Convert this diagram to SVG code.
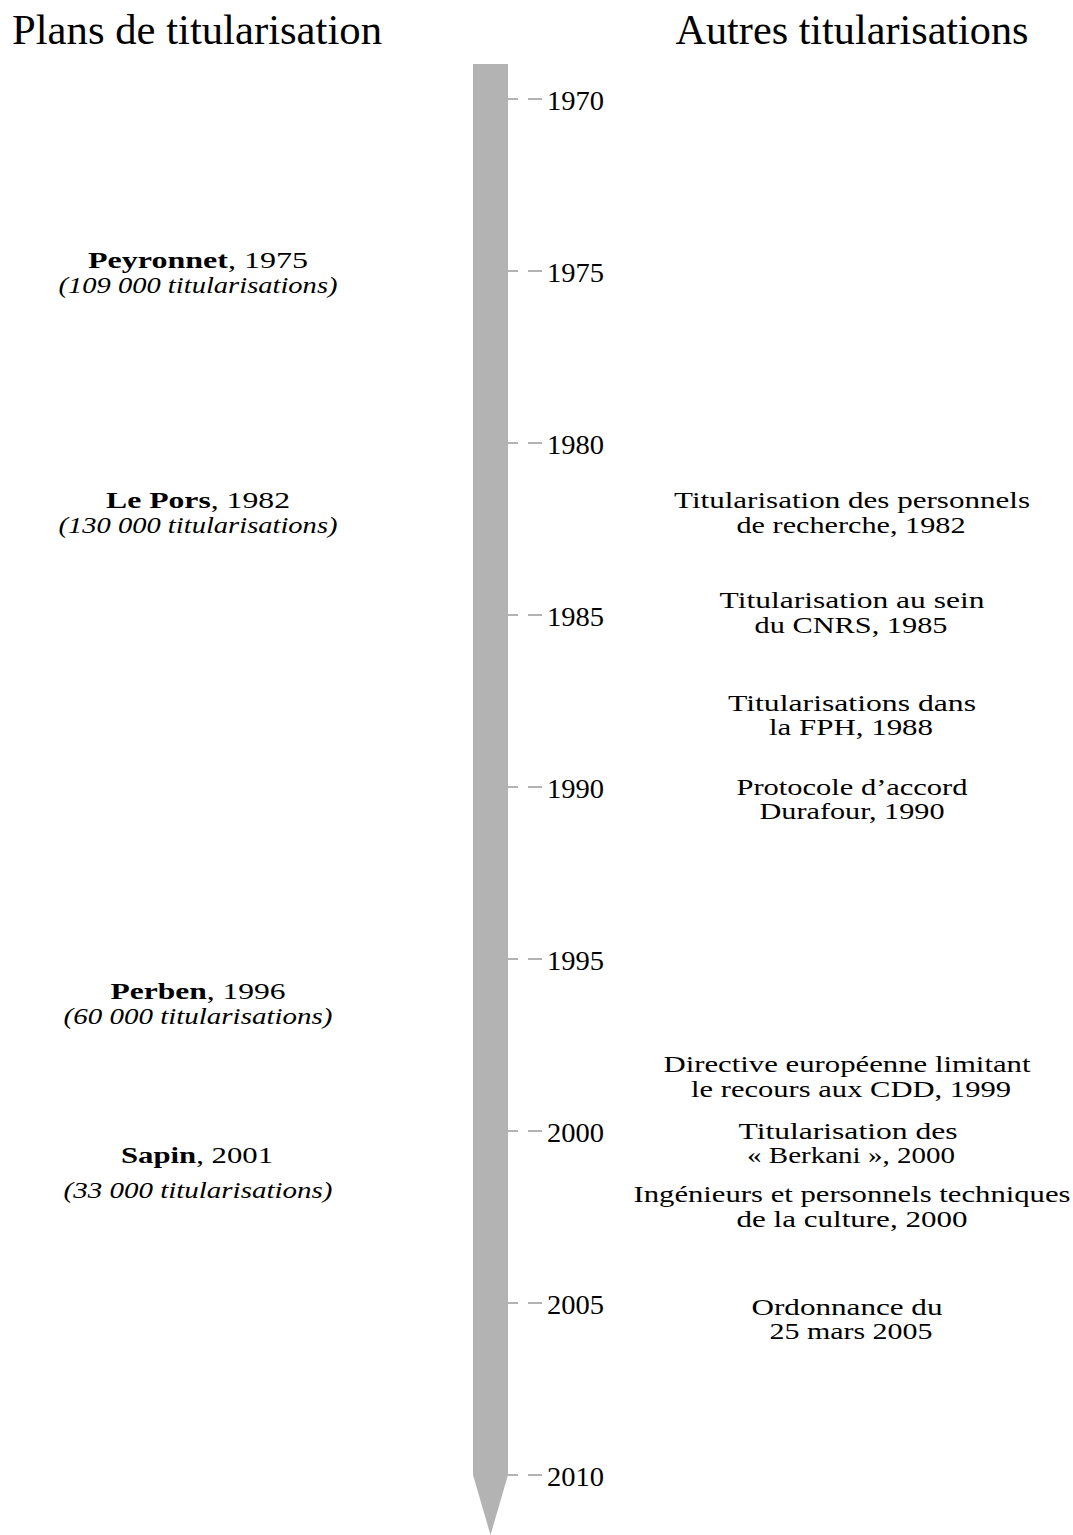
<svg xmlns="http://www.w3.org/2000/svg" width="1073" height="1535" viewBox="0 0 1073 1535">
<style>
text{font-family:"Liberation Serif","Times New Roman",serif;fill:#000;text-anchor:middle}
.hd{font-size:42px}
.yr{font-size:28px;text-anchor:start}
.b{font-size:23px}
.it{font-size:23px;font-style:italic}
.tick{stroke:#b3b3b3;stroke-width:2;stroke-dasharray:10 10 14;fill:none}
</style>
<rect width="1073" height="1535" fill="#fff"/>
<g id="headers">
<text class="hd" x="197" y="44" textLength="370" lengthAdjust="spacingAndGlyphs">Plans de titularisation</text>
<text class="hd" x="852" y="44" textLength="353" lengthAdjust="spacingAndGlyphs">Autres titularisations</text>
</g>
<g id="axis">
<path d="M473,64 H508 V1475 L490.5,1535 L473,1475 Z" fill="#b3b3b3"/>
</g>
<g id="connectors">
<line class="tick" x1="508" y1="99" x2="542" y2="99"/>
<line class="tick" x1="508" y1="271" x2="542" y2="271"/>
<line class="tick" x1="508" y1="443" x2="542" y2="443"/>
<line class="tick" x1="508" y1="615" x2="542" y2="615"/>
<line class="tick" x1="508" y1="787" x2="542" y2="787"/>
<line class="tick" x1="508" y1="959" x2="542" y2="959"/>
<line class="tick" x1="508" y1="1131" x2="542" y2="1131"/>
<line class="tick" x1="508" y1="1303" x2="542" y2="1303"/>
<line class="tick" x1="508" y1="1475" x2="542" y2="1475"/>
</g>
<g id="years">
<text class="yr" x="547" y="110" textLength="57" lengthAdjust="spacingAndGlyphs">1970</text>
<text class="yr" x="547" y="282" textLength="57" lengthAdjust="spacingAndGlyphs">1975</text>
<text class="yr" x="547" y="454" textLength="57" lengthAdjust="spacingAndGlyphs">1980</text>
<text class="yr" x="547" y="626" textLength="57" lengthAdjust="spacingAndGlyphs">1985</text>
<text class="yr" x="547" y="798" textLength="57" lengthAdjust="spacingAndGlyphs">1990</text>
<text class="yr" x="547" y="970" textLength="57" lengthAdjust="spacingAndGlyphs">1995</text>
<text class="yr" x="547" y="1142" textLength="57" lengthAdjust="spacingAndGlyphs">2000</text>
<text class="yr" x="547" y="1314" textLength="57" lengthAdjust="spacingAndGlyphs">2005</text>
<text class="yr" x="547" y="1486" textLength="57" lengthAdjust="spacingAndGlyphs">2010</text>
</g>
<g id="peyronnet">
<text class="b" x="198" y="268" textLength="220" lengthAdjust="spacingAndGlyphs"><tspan font-weight="bold">Peyronnet</tspan>, 1975</text>
<text class="it" x="198" y="293" textLength="279" lengthAdjust="spacingAndGlyphs">(109 000 titularisations)</text>
</g>
<g id="lepors">
<text class="b" x="198" y="508" textLength="184" lengthAdjust="spacingAndGlyphs"><tspan font-weight="bold">Le Pors</tspan>, 1982</text>
<text class="it" x="198" y="533" textLength="279" lengthAdjust="spacingAndGlyphs">(130 000 titularisations)</text>
</g>
<g id="perben">
<text class="b" x="198" y="999" textLength="175" lengthAdjust="spacingAndGlyphs"><tspan font-weight="bold">Perben</tspan>, 1996</text>
<text class="it" x="198" y="1024" textLength="269" lengthAdjust="spacingAndGlyphs">(60 000 titularisations)</text>
</g>
<g id="sapin">
<text class="b" x="197" y="1163" textLength="152" lengthAdjust="spacingAndGlyphs"><tspan font-weight="bold">Sapin</tspan>, 2001</text>
<text class="it" x="198" y="1198" textLength="269" lengthAdjust="spacingAndGlyphs">(33 000 titularisations)</text>
</g>
<g id="recherche">
<text class="b" x="852" y="508" textLength="356" lengthAdjust="spacingAndGlyphs">Titularisation des personnels</text>
<text class="b" x="851" y="533" textLength="229" lengthAdjust="spacingAndGlyphs">de recherche, 1982</text>
</g>
<g id="cnrs">
<text class="b" x="852" y="608" textLength="265" lengthAdjust="spacingAndGlyphs">Titularisation au sein</text>
<text class="b" x="851" y="633" textLength="193" lengthAdjust="spacingAndGlyphs">du CNRS, 1985</text>
</g>
<g id="fph">
<text class="b" x="852" y="711" textLength="248" lengthAdjust="spacingAndGlyphs">Titularisations dans</text>
<text class="b" x="851" y="735" textLength="164" lengthAdjust="spacingAndGlyphs">la FPH, 1988</text>
</g>
<g id="durafour">
<text class="b" x="852" y="795" textLength="231" lengthAdjust="spacingAndGlyphs">Protocole d’accord</text>
<text class="b" x="852" y="819" textLength="185" lengthAdjust="spacingAndGlyphs">Durafour, 1990</text>
</g>
<g id="directive">
<text class="b" x="847" y="1072" textLength="367" lengthAdjust="spacingAndGlyphs">Directive européenne limitant</text>
<text class="b" x="851" y="1097" textLength="320" lengthAdjust="spacingAndGlyphs">le recours aux CDD, 1999</text>
</g>
<g id="berkani">
<text class="b" x="848" y="1139" textLength="219" lengthAdjust="spacingAndGlyphs">Titularisation des</text>
<text class="b" x="851" y="1163" textLength="208" lengthAdjust="spacingAndGlyphs">« Berkani », 2000</text>
</g>
<g id="culture">
<text class="b" x="852" y="1202" textLength="437" lengthAdjust="spacingAndGlyphs">Ingénieurs et personnels techniques</text>
<text class="b" x="852" y="1227" textLength="231" lengthAdjust="spacingAndGlyphs">de la culture, 2000</text>
</g>
<g id="ordonnance">
<text class="b" x="847" y="1315" textLength="191" lengthAdjust="spacingAndGlyphs">Ordonnance du</text>
<text class="b" x="851" y="1339" textLength="163" lengthAdjust="spacingAndGlyphs">25 mars 2005</text>
</g>
</svg>
